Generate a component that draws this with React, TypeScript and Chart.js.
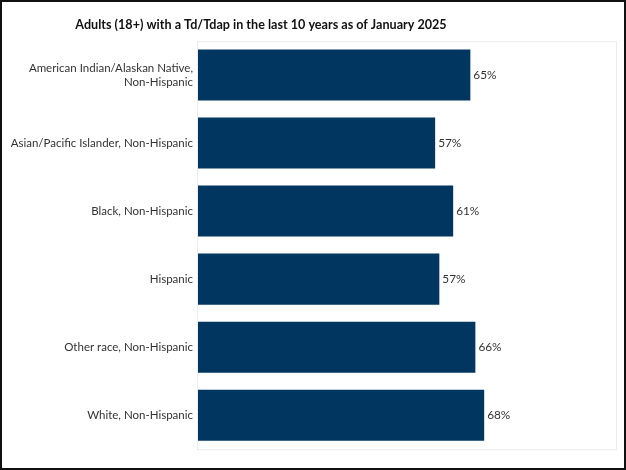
import React, { useEffect, useRef } from "react";
import { Chart, registerables } from "chart.js";

Chart.register(...registerables);

const TITLE = "Adults (18+) with a Td/Tdap in the last 10 years as of January 2025";
const categories: (string | string[])[] = [
  ["American Indian/Alaskan Native,", "Non-Hispanic"],
  "Asian/Pacific Islander, Non-Hispanic",
  "Black, Non-Hispanic",
  "Hispanic",
  "Other race, Non-Hispanic",
  "White, Non-Hispanic",
];
const values = [65.0, 56.6, 60.9, 57.6, 66.2, 68.3];
const valueLabels = ["65%", "57%", "61%", "57%", "66%", "68%"];

const FONT = "Lato, 'Open Sans', sans-serif";

export default function App() {
  const ref = useRef<HTMLCanvasElement | null>(null);
  useEffect(() => {
    document.body.style.margin = "0";
    if (!ref.current) return;
    const titlePlugin = {
      id: "customTitle",
      afterDraw(chart: any) {
        const ctx = chart.ctx;
        ctx.save();
        ctx.font = `bold 12.6px ${FONT}`;
        ctx.fillStyle = "#111";
        ctx.textAlign = "center";
        ctx.textBaseline = "middle";
        ctx.fillText(TITLE, 259, 23);
        ctx.restore();
      },
    };
    const framePlugin = {
      id: "frame",
      beforeDatasetsDraw(chart: any) {
        const { ctx, chartArea } = chart;
        ctx.save();
        ctx.strokeStyle = "#ececec";
        ctx.lineWidth = 1;
        ctx.strokeRect(chartArea.left - 0.5, chartArea.top + 0.5, chartArea.right - chartArea.left, chartArea.bottom - chartArea.top);
        ctx.restore();
      },
    };
    const labelPlugin = {
      id: "valueLabels",
      afterDatasetsDraw(chart: any) {
        const ctx = chart.ctx;
        const meta = chart.getDatasetMeta(0);
        ctx.save();
        ctx.font = `11.8px ${FONT}`;
        ctx.fillStyle = "#333";
        ctx.textAlign = "left";
        ctx.textBaseline = "middle";
        meta.data.forEach((bar: any, i: number) => {
          ctx.fillText(valueLabels[i], bar.x + 3, bar.y);
        });
        ctx.restore();
      },
    };
    const chart = new Chart(ref.current, {
      type: "bar",
      data: {
        labels: categories,
        datasets: [
          {
            data: values,
            backgroundColor: "#00365f",
            borderWidth: 0,
            barPercentage: 0.75,
            categoryPercentage: 1,
          },
        ],
      },
      options: {
        indexAxis: "y",
        animation: false,
        responsive: false,
        maintainAspectRatio: false,
        layout: { padding: { top: 39, bottom: 8, right: 7, left: 0 } },
        plugins: {
          legend: { display: false },
          title: { display: false },
          tooltip: { enabled: false },
        },
        scales: {
          x: { display: false, min: 0, max: 100 },
          y: {
            grid: { display: false, drawTicks: false },
            border: { display: false },
            ticks: {
              padding: 5,
              color: "#333",
              font: { family: FONT, size: 11.5 },
              autoSkip: false,
            },
            afterFit(scale: any) {
              scale.width = 196;
            },
          },
        },
      },
      plugins: [framePlugin, labelPlugin, titlePlugin],
    });
    return () => chart.destroy();
  }, []);
  return (
    <div
      style={{
        width: 626,
        height: 470,
        boxSizing: "border-box",
        border: "2px solid #111",
        background: "#fff",
      }}
    >
      <canvas ref={ref} width={622} height={466} style={{ display: "block" }} />
    </div>
  );
}
